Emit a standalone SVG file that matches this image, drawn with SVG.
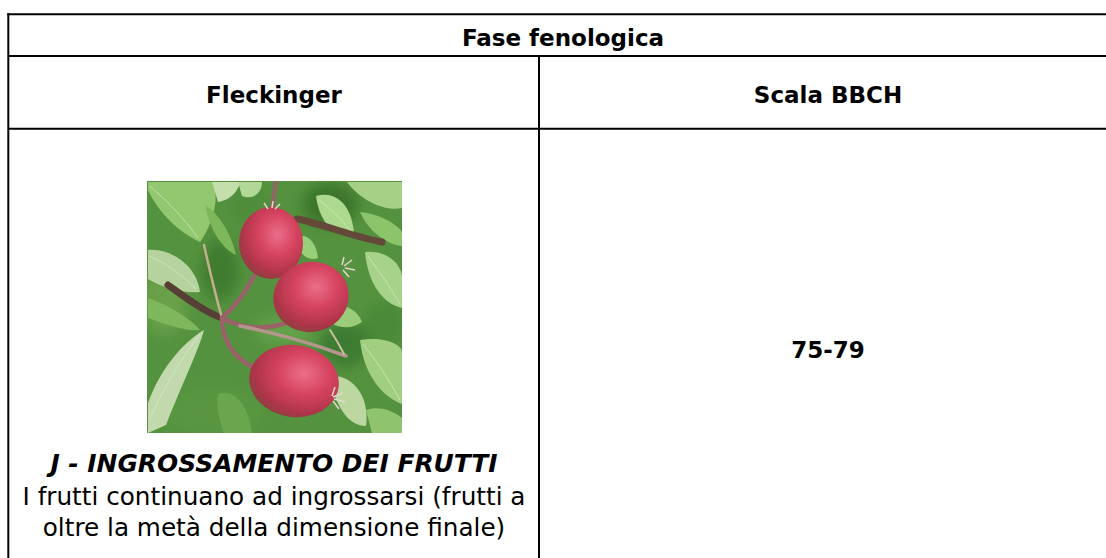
<svg xmlns="http://www.w3.org/2000/svg" width="1106" height="558" viewBox="0 0 1106 558">
<style>
.ln{stroke:#000;stroke-width:2;fill:none}
.hd{font-family:"DejaVu Sans",Verdana,sans-serif;font-weight:bold;font-size:23px;fill:#000;text-anchor:middle}
.ti{font-family:"DejaVu Sans",Verdana,sans-serif;font-weight:bold;font-style:italic;font-size:24.9px;fill:#000;text-anchor:middle}
.tx{font-family:"DejaVu Sans",Verdana,sans-serif;font-size:24.7px;fill:#000;text-anchor:middle}
.vein{fill:none;stroke:#d6ecc4;stroke-width:1;opacity:0.7}
</style>
<defs>
<clipPath id="pc"><rect x="147" y="181" width="255" height="252"/></clipPath>
<filter id="bl" x="-20%" y="-20%" width="140%" height="140%"><feGaussianBlur stdDeviation="7"/></filter>
<filter id="sf"><feGaussianBlur stdDeviation="0.7"/></filter>
<radialGradient id="fr" cx="0.6" cy="0.38" r="0.65">
<stop offset="0" stop-color="#ea6f8a"/>
<stop offset="0.45" stop-color="#d6435f"/>
<stop offset="0.85" stop-color="#ad3549"/>
<stop offset="1" stop-color="#8e4040"/>
</radialGradient>
</defs>
<rect width="1106" height="558" fill="#fff"/>
<g id="grid">
<line class="ln" x1="7.3" y1="14.3" x2="1120" y2="14.3"/>
<line class="ln" x1="8.3" y1="13.3" x2="8.3" y2="560"/>
<line class="ln" x1="8.3" y1="56" x2="1120" y2="56"/>
<line class="ln" x1="8.3" y1="128.7" x2="1120" y2="128.7"/>
<line class="ln" x1="539" y1="56" x2="539" y2="560"/>
</g>
<g id="header"><text class="hd" x="563" y="46">Fase fenologica</text></g>
<g id="col-fleckinger"><text class="hd" x="274" y="103">Fleckinger</text></g>
<g id="col-bbch"><text class="hd" x="828" y="103">Scala BBCH</text></g>
<g id="cell-bbch"><text class="hd" x="828" y="358">75-79</text></g>
<g id="cell-fleckinger">
<g id="photo" clip-path="url(#pc)">
<g filter="url(#sf)">
<rect x="147" y="181" width="255" height="252" fill="#55923f"/>
<g filter="url(#bl)">
<ellipse cx="330" cy="205" rx="28" ry="22" fill="#3a7529"/>
<ellipse cx="165" cy="300" rx="22" ry="35" fill="#6aa04a"/>
<ellipse cx="215" cy="412" rx="50" ry="25" fill="#5a9640"/>
<ellipse cx="385" cy="325" rx="22" ry="25" fill="#4c8a38"/>
<ellipse cx="250" cy="205" rx="22" ry="20" fill="#4f8d3a"/>
<ellipse cx="345" cy="345" rx="25" ry="22" fill="#3e7a30"/>
<ellipse cx="220" cy="270" rx="18" ry="30" fill="#3f7a2f"/>
<ellipse cx="285" cy="330" rx="30" ry="14" fill="#64a24a"/>
</g>
<path d="M148,182 L212,182 C220,195 214,222 200,242 C178,232 158,212 148,190 Z" fill="#93c870"/>
<path d="M150,186 Q180,212 198,238" class="vein"/>
<path d="M212,182 L240,182 C238,192 230,200 218,202 Z" fill="#c4dfac"/>
<path d="M238,182 L262,182 C262,194 252,200 242,196 Z" fill="#b2d898"/>
<path d="M148,250 C167,248 196,262 200,292 C185,294 160,287 148,279 Z" fill="#b6d29e"/>
<path d="M150,256 Q175,268 196,289" class="vein"/>
<path d="M148,298 C165,304 188,316 200,330 C185,332 160,322 148,318 Z" fill="#7fb85c"/>
<path d="M205,205 C218,212 232,235 236,255 C224,250 210,232 205,205 Z" fill="#7db75c"/>
<path d="M316,196 C336,190 352,205 354,234 C340,238 320,228 316,196 Z" fill="#add98e"/>
<path d="M318,199 Q335,212 352,232" class="vein"/>
<path d="M347,182 L402,182 L402,208 C385,212 360,200 347,182 Z" fill="#a5d086"/>
<path d="M360,212 C378,214 395,222 402,232 L402,246 C385,244 368,230 360,212 Z" fill="#8cc46c"/>
<path d="M296,238 C305,232 316,240 318,258 C306,262 298,252 296,238 Z" fill="#98cf78"/>
<path d="M365,252 C385,250 400,262 402,276 L402,308 C384,304 368,285 365,252 Z" fill="#a7d289"/>
<path d="M368,256 Q386,280 400,304" class="vein"/>
<path d="M318,310 C335,300 356,306 362,322 C348,332 330,328 318,310 Z" fill="#9acc7a"/>
<path d="M360,340 C385,336 402,345 402,352 L402,404 C385,398 364,378 360,340 Z" fill="#a2cf7f"/>
<path d="M363,344 Q384,370 400,400" class="vein"/>
<path d="M330,376 C354,374 370,398 366,426 C350,426 336,410 330,376 Z" fill="#bcd8a0"/>
<path d="M148,403 C160,370 182,343 204,330 C198,352 182,384 166,425 L148,433 Z" fill="#c2d9ad"/>
<path d="M150,418 Q172,370 200,334" class="vein"/>
<path d="M218,394 C234,388 248,404 252,433 L224,433 C219,420 216,406 218,394 Z" fill="#6aa64d"/>
<path d="M366,410 C380,405 395,412 402,418 L402,433 L372,433 Z" fill="#8fc36e"/>
<g fill="none" stroke-linecap="round">
<path d="M297,219 C320,223 350,236 382,242" stroke="#654838" stroke-width="7"/>
<path d="M168,285 C186,298 205,312 222,318" stroke="#574036" stroke-width="7"/>
<path d="M276,181 L272,210" stroke="#8a6a60" stroke-width="5"/>
<path d="M222,318 Q214,290 204,245" stroke="#c2b08c" stroke-width="2.5"/>
<path d="M222,318 Q242,300 254,276" stroke="#9a6268" stroke-width="4.5"/>
<path d="M222,318 Q252,334 286,323" stroke="#9a6268" stroke-width="4.5"/>
<path d="M222,318 Q222,350 252,367" stroke="#9a6268" stroke-width="4.5"/>
<path d="M240,326 Q292,336 346,356" stroke="#b4968c" stroke-width="3.5"/>
<path d="M330,330 Q338,342 344,354" stroke="#c8c0a0" stroke-width="2"/>
</g>
<ellipse cx="271" cy="243" rx="32" ry="36" fill="url(#fr)"/>
<ellipse cx="311" cy="297" rx="38" ry="35" transform="rotate(-15 311 297)" fill="url(#fr)"/>
<ellipse cx="294" cy="381" rx="45" ry="36" transform="rotate(8 294 381)" fill="url(#fr)"/>
<g stroke="#e6d6cc" stroke-width="1.5" fill="none">
<path d="M344,266 l8,-6 M345,268 l10,2 M343,270 l6,7 M342,265 l2,-8"/>
<path d="M333,397 l10,-4 M334,399 l11,3 M333,401 l6,8 M332,396 l3,-9"/>
<path d="M268,209 l-4,-6 M272,208 l1,-7 M275,209 l5,-5"/>
</g>
</g>
</g>
<text x="274" y="472" class="ti">J - INGROSSAMENTO DEI FRUTTI</text>
<text x="274" y="505" class="tx">I frutti continuano ad ingrossarsi (frutti a</text>
<text x="274" y="536" class="tx">oltre la metà della dimensione finale)</text>
</g>
</svg>
